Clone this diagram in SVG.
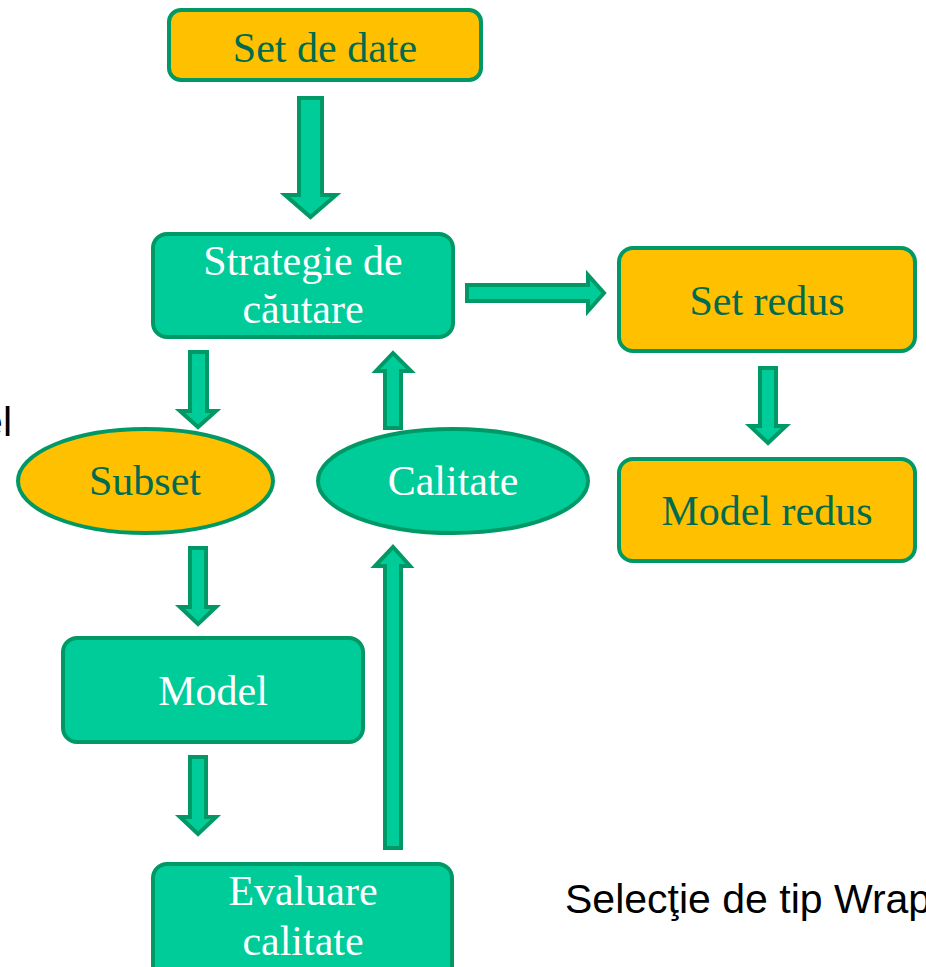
<svg xmlns="http://www.w3.org/2000/svg" width="926" height="967" viewBox="0 0 926 967">
<style>
.o{fill:#FFC000;stroke:#009966;stroke-width:4}
.g{fill:#00CC99;stroke:#009966;stroke-width:4}
.a{fill:#00CC99;stroke:#009966;stroke-width:4;stroke-linejoin:miter}
.t{font-family:"Liberation Serif","Times New Roman",serif;font-size:42px;text-anchor:middle}
.d{fill:#006B50}
.w{fill:#FFFFFF}
.s{font-family:"Liberation Sans",Arial,sans-serif;font-size:41px;fill:#000000}
</style>
<rect width="926" height="967" fill="#FFFFFF"/>
<g id="connectors">
<polygon class="a" points="299,98 322,98 322,195 336,195 310.5,217 285,195 299,195"/>
<polygon class="a" points="190,352 207,352 207,411 216,411 198,427 180,411 190,411"/>
<polygon class="a" points="385,428 401,428 401,371 411,371 393,353 376,371 385,371"/>
<polygon class="a" points="467,285 588,285 588,275 604,293 588,311 588,301 467,301"/>
<polygon class="a" points="760,368 776,368 776,426 786,426 768,443 750,426 760,426"/>
<polygon class="a" points="190,548 206,548 206,607 216,607 198,624 180,607 190,607"/>
<polygon class="a" points="190,757 206,757 206,817 216,817 198,834 180,817 190,817"/>
<polygon class="a" points="385,848 401,848 401,566 410,566 393,547 375,566 385,566"/>
</g>
<g id="set-de-date">
<rect class="o" x="169" y="10" width="312" height="70" rx="12"/>
<text class="t d" x="325" y="62">Set de date</text>
</g>
<g id="strategie">
<rect class="g" x="153" y="234" width="300" height="103" rx="14"/>
<text class="t w" x="303" y="275">Strategie de</text>
<text class="t w" x="303" y="323">căutare</text>
</g>
<g id="set-redus">
<rect class="o" x="619" y="248" width="296" height="103" rx="14"/>
<text class="t d" x="767" y="315">Set redus</text>
</g>
<g id="model-redus">
<rect class="o" x="619" y="459" width="296" height="102" rx="14"/>
<text class="t d" x="767" y="525">Model redus</text>
</g>
<g id="subset">
<ellipse class="o" cx="145.5" cy="481" rx="127.5" ry="52"/>
<text class="t d" x="145" y="495">Subset</text>
</g>
<g id="calitate">
<ellipse class="g" cx="453" cy="481" rx="135" ry="52"/>
<text class="t w" x="453" y="495">Calitate</text>
</g>
<g id="model">
<rect class="g" x="63" y="638" width="300" height="104" rx="14"/>
<text class="t w" x="213" y="705">Model</text>
</g>
<g id="evaluare">
<rect class="g" x="153" y="864" width="299" height="120" rx="14"/>
<text class="t w" x="303" y="905">Evaluare</text>
<text class="t w" x="303" y="955">calitate</text>
</g>
<g id="labels">
<text class="s" x="12" y="436" text-anchor="end">el</text>
<text class="s" x="565" y="913">Selecţie de tip Wrap</text>
</g>
</svg>
